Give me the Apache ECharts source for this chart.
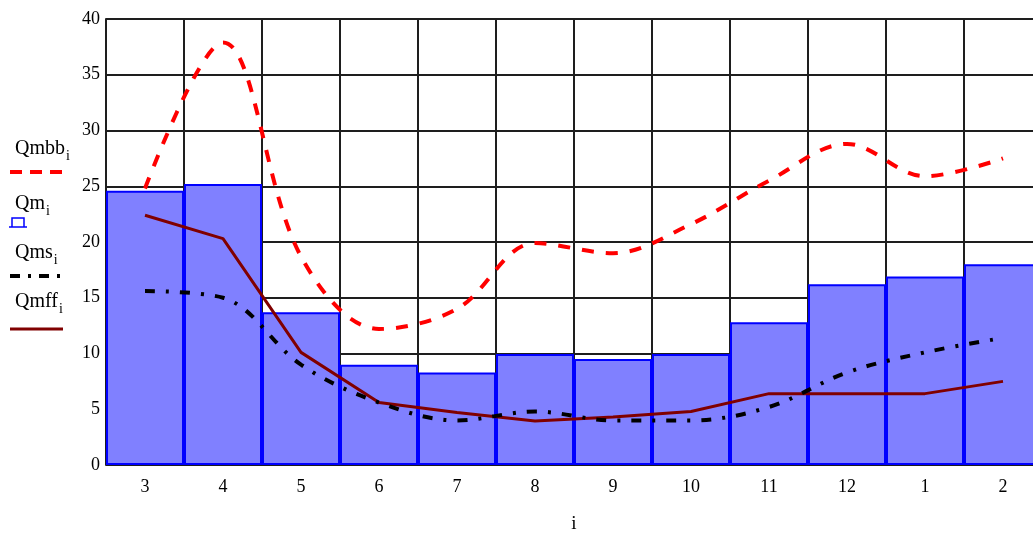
<!DOCTYPE html>
<html>
<head>
<meta charset="utf-8">
<script src="https://cdn.jsdelivr.net/npm/echarts@6/dist/echarts.min.js"></script>
<style>
  html, body { margin: 0; padding: 0; background: #fff; }
  #chart { width: 1033px; height: 535px; }
</style>
</head>
<body>
<div id="chart"></div>
<script>
// months, starting at march
let months = ['3', '4', '5', '6', '7', '8', '9', '10', '11', '12', '1', '2'];
let yTicks = [0, 5, 10, 15, 20, 25, 30, 35, 40];

let qm   = [24.6, 25.2, 13.7, 9.0, 8.3, 9.95, 9.5, 9.95, 12.8, 16.2, 16.9, 18.0];
let qmbb = [24.8, 37.9, 18.7, 12.2, 14.0, 19.9, 19.0, 21.6, 25.5, 28.8, 25.9, 27.5];
let qms  = [15.6, 15.0, 9.0, 5.6, 4.0, 4.8, 4.0, 4.0, 5.2, 8.3, 10.1, 11.4];
let qmff = [22.4, 20.3, 10.1, 5.6, 4.7, 3.95, 4.3, 4.8, 6.4, 6.4, 6.4, 7.5];

let serif = '"Liberation Serif", "DejaVu Serif", serif';
let gridColor = '#1e1e1e';

// measure text so the subscript sits right after the name
let ctx = document.createElement('canvas').getContext('2d');
function textW(str, size) {
    ctx.font = size + 'px ' + serif;
    return ctx.measureText(str).width;
}

// legend on the left, mathcad style: name on top, sample below
function legendItem(name, x, y) {
    let w = textW(name, 20);
    return [
        { type: 'text', left: x, top: y, style: { text: name, font: '20px ' + serif, fill: '#000' } },
        { type: 'text', left: x + w + 1, top: y + 10, style: { text: 'i', font: '14px ' + serif, fill: '#000' } }
    ];
}

let graphics = [].concat(
    legendItem('Qmbb', 15, 139),
    legendItem('Qm', 15, 194),
    legendItem('Qms', 15, 243),
    legendItem('Qmff', 15, 292),
    [
        { type: 'line', shape: { x1: 10, y1: 172, x2: 64, y2: 172 },
          style: { stroke: '#ff0000', lineWidth: 4, lineDash: [12, 8] } },
        { type: 'polyline', shape: { points: [[9, 227], [27, 227]] },
          style: { stroke: '#0000ff', lineWidth: 1.5, fill: null } },
        { type: 'polyline', shape: { points: [[12, 227], [12, 218], [24, 218], [24, 227]] },
          style: { stroke: '#0000ff', lineWidth: 1.5, fill: null } },
        { type: 'line', shape: { x1: 10, y1: 276, x2: 62, y2: 276 },
          style: { stroke: '#000', lineWidth: 4, lineDash: [10, 8, 3, 8] } },
        { type: 'line', shape: { x1: 10, y1: 329, x2: 63, y2: 329 },
          style: { stroke: '#800000', lineWidth: 3 } }
    ]
);

let myChart = echarts.init(document.getElementById('chart'));
myChart.setOption({
    animation: false,
    backgroundColor: '#fff',
    grid: { left: 106, top: 19, width: 936, height: 446, outerBoundsMode: 'none', containLabel: false },
    xAxis: {
        type: 'category',
        data: months,
        boundaryGap: true,
        name: 'i',
        nameLocation: 'middle',
        nameGap: 50,
        nameTextStyle: { fontFamily: serif, fontSize: 19, color: '#000' },
        axisLine: { show: false },
        axisTick: { show: false },
        axisLabel: { fontFamily: serif, fontSize: 18, color: '#000', margin: 13 },
        splitLine: { show: true, lineStyle: { color: gridColor, width: 2 } }
    },
    yAxis: {
        type: 'value',
        min: yTicks[0],
        max: yTicks[yTicks.length - 1],
        interval: 5,
        axisLine: { show: true, lineStyle: { color: gridColor, width: 2 } },
        axisTick: { show: false },
        axisLabel: { fontFamily: serif, fontSize: 18, color: '#000', margin: 6 },
        splitLine: { show: true, lineStyle: { color: gridColor, width: 2 } }
    },
    graphic: graphics,
    series: [
        {
            name: 'Qm',
            type: 'bar',
            data: qm,
            barWidth: '100%',
            itemStyle: { color: '#8080ff', borderColor: '#0000ff', borderWidth: 2 },
            z: 2
        },
        {
            name: 'Qmbb',
            type: 'line',
            data: qmbb,
            smooth: 0.35,
            showSymbol: false,
            lineStyle: { color: '#ff0000', width: 4, type: [12, 12] },
            z: 5
        },
        {
            name: 'Qms',
            type: 'line',
            data: qms,
            smooth: 0.35,
            showSymbol: false,
            lineStyle: { color: '#000', width: 4, type: [10, 11, 3, 11] },
            z: 4
        },
        {
            name: 'Qmff',
            type: 'line',
            data: qmff,
            smooth: false,
            showSymbol: false,
            lineStyle: { color: '#800000', width: 3 },
            z: 3
        }
    ]
});
</script>
</body>
</html>
